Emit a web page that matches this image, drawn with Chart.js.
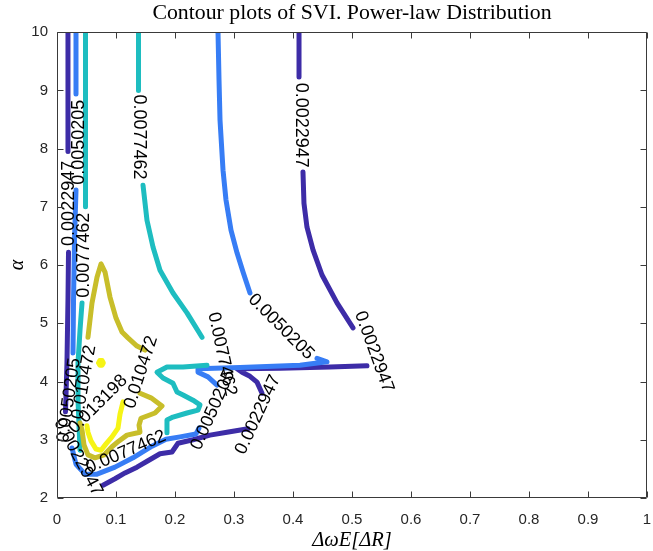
<!DOCTYPE html>
<html>
<head>
<meta charset="utf-8">
<script src="https://cdn.jsdelivr.net/npm/chart.js@4.4.1/dist/chart.umd.min.js"></script>
<style>
  html, body { margin: 0; padding: 0; background: #ffffff; }
  #wrap { width: 653px; height: 551px; }
</style>
</head>
<body>
<div id="wrap"><canvas id="c" width="653" height="551"></canvas></div>
<script>
// Contour levels of the SVI surface and their labels
const levels = [0.0022947, 0.0050205, 0.0077462, 0.010472, 0.013198];
const levelText = ['0.0022947', '0.0050205', '0.0077462', '0.010472', '0.013198'];
const levelColors = ['#3d2ca7', '#377df5', '#1ebdc0', '#c8be2a', '#f6f416'];

// Axis ticks
const xTicks = [0, 0.1, 0.2, 0.3, 0.4, 0.5, 0.6, 0.7, 0.8, 0.9, 1];
const xTickLabels = ['0', '0.1', '0.2', '0.3', '0.4', '0.5', '0.6', '0.7', '0.8', '0.9', '1'];
const yTicks = [2, 3, 4, 5, 6, 7, 8, 9, 10];
const yTickLabels = ['2', '3', '4', '5', '6', '7', '8', '9', '10'];

// Level 0.0022947 : pieces of the contour as [ΔωE[ΔR], α]
const c1a = [[0.0186, 10], [0.0186, 7.95]];
const c1b = [[0.0195, 6.22], [0.0186, 5.40], [0.0169, 4.32], [0.0144, 3.48]];
const c1c = [[0.078, 2.22], [0.0983, 2.33], [0.1153, 2.43], [0.1356, 2.53], [0.1542, 2.64], [0.1746, 2.76],
             [0.1949, 2.79], [0.2051, 2.94], [0.2305, 3.00], [0.2593, 3.08], [0.2881, 3.13], [0.3237, 3.19]];
const c1d = [[0.3475, 3.80], [0.3390, 3.99], [0.3271, 4.09], [0.3136, 4.16], [0.3051, 4.22],
             [0.3780, 4.23], [0.4627, 4.25], [0.5254, 4.27]];
const c1e = [[0.4102, 10], [0.4102, 9.23]];
const c1f = [[0.4169, 7.60], [0.4186, 7.06], [0.4237, 6.65], [0.4339, 6.26], [0.4492, 5.83], [0.4746, 5.35], [0.5017, 4.92]];

// Level 0.0050205
const c2a = [[0.0322, 10], [0.0322, 8.94]];
const c2b = [[0.0322, 7.29], [0.0297, 6.43], [0.0280, 5.40], [0.0271, 4.49]];
const c2c = [[0.0254, 2.86], [0.0322, 2.58], [0.0475, 2.41], [0.0678, 2.41], [0.0983, 2.53], [0.1288, 2.69],
             [0.1610, 2.89], [0.1847, 3.01], [0.2085, 3.05], [0.2356, 3.10], [0.2407, 3.20]];
const c2d = [[0.2712, 3.94], [0.2559, 4.08], [0.2390, 4.16], [0.2390, 4.22], [0.3102, 4.24],
             [0.4119, 4.28], [0.4576, 4.34], [0.4407, 4.40]];
const c2e = [[0.2729, 10], [0.2746, 9.18], [0.2763, 8.49], [0.2814, 7.63], [0.2864, 7.12], [0.2949, 6.60],
             [0.3051, 6.21], [0.3153, 5.88], [0.3271, 5.52]];

// Level 0.0077462
const c3a = [[0.0483, 10], [0.0483, 7.00]];
const c3b = [[0.0424, 5.35], [0.0390, 4.88], [0.0356, 4.32], [0.0356, 3.68], [0.0390, 2.82]];
const c3c = [[0.1864, 3.12], [0.1864, 3.34], [0.1966, 3.39], [0.2203, 3.46], [0.2390, 3.51], [0.2424, 3.60],
             [0.2305, 3.68], [0.2136, 3.77], [0.2034, 3.82], [0.1966, 3.97], [0.1797, 4.06], [0.1695, 4.16],
             [0.1864, 4.25], [0.2136, 4.25], [0.2542, 4.28]];
const c3d = [[0.1381, 10], [0.1381, 9.00]];
const c3e = [[0.1458, 7.37], [0.1525, 6.77], [0.1627, 6.31], [0.1746, 5.91], [0.1966, 5.52], [0.2203, 5.18], [0.2458, 4.76]];

// Level 0.010472
const c4a = [[0.1407, 3.80], [0.1593, 3.72], [0.1780, 3.58], [0.1661, 3.46], [0.1424, 3.37], [0.1390, 3.25],
             [0.1407, 3.13], [0.1186, 3.08], [0.1051, 2.98], [0.0932, 2.88], [0.0797, 2.74], [0.0644, 2.69],
             [0.0525, 2.74], [0.0458, 2.91], [0.0424, 3.17], [0.0390, 3.29]];
const c4b = [[0.1492, 4.54], [0.1356, 4.61], [0.1203, 4.75], [0.1102, 4.85], [0.1000, 5.09], [0.0898, 5.45],
             [0.0814, 5.88], [0.0746, 6.02], [0.0678, 5.79], [0.0593, 5.35], [0.0525, 4.76]];

// Level 0.013198
const c5a = [[0.1119, 3.65], [0.1068, 3.44], [0.1034, 3.20], [0.0932, 3.05], [0.0831, 2.93], [0.0746, 2.82],
             [0.0661, 2.84], [0.0576, 2.98], [0.0525, 3.13], [0.0508, 3.24]];
const c5b = [[0.0705, 4.32], [0.0725, 4.36], [0.0765, 4.36], [0.0785, 4.32], [0.0765, 4.28], [0.0725, 4.28], [0.0705, 4.32]];

const contourPaths = [
  [c1a, c1b, c1c, c1d, c1e, c1f],
  [c2a, c2b, c2c, c2d, c2e],
  [c3a, c3b, c3c, c3d, c3e],
  [c4a, c4b],
  [c5a, c5b]
];

// In-line contour labels: [level index, ΔωE[ΔR], α, angle in degrees]
const contourLabels = [
  [0, 0.0203, 7.06, -90],
  [1, 0.0373, 8.11, -90],
  [2, 0.0458, 6.17, -90],
  [2, 0.1390, 8.20, 90],
  [0, 0.4136, 8.40, 90],
  [1, 0.3797, 4.94, 45],
  [0, 0.5373, 4.51, 70],
  [2, 0.2797, 4.47, 78],
  [1, 0.2644, 3.51, -66],
  [0, 0.3407, 3.43, -65],
  [3, 0.1424, 4.16, -72],
  [3, 0.0458, 3.99, -80],
  [4, 0.0695, 3.61, -45],
  [2, 0.1169, 2.79, -23],
  [1, 0.0203, 3.68, -82],
  [0, 0.0356, 2.70, 62]
];

const datasets = [];
contourPaths.forEach((paths, k) => {
  paths.forEach(p => {
    datasets.push({
      label: levelText[k],
      data: p.map(([x, y]) => ({ x, y })),
      showLine: true,
      borderColor: levelColors[k],
      backgroundColor: levelColors[k],
      borderWidth: 5,
      pointRadius: 0,
      pointHoverRadius: 0,
      borderCapStyle: 'round',
      borderJoinStyle: 'round',
      tension: 0,
      fill: false,
      clip: 0,
      order: 10 - k
    });
  });
});

// Axes box with inward ticks on all four sides, plus the contour labels
const frameAndLabels = {
  id: 'frameAndLabels',
  afterDatasetsDraw(chart) {
    const { ctx, chartArea: a, scales: { x, y } } = chart;
    ctx.save();
    ctx.fillStyle = '#000000';
    ctx.font = '18px "Liberation Sans", Arial, Helvetica, sans-serif';
    ctx.textAlign = 'center';
    ctx.textBaseline = 'middle';
    contourLabels.forEach(([k, lx, ly, ang]) => {
      ctx.save();
      ctx.translate(x.getPixelForValue(lx), y.getPixelForValue(ly));
      ctx.rotate(ang * Math.PI / 180);
      ctx.fillText(levelText[k], 0, 0);
      ctx.restore();
    });

    const L = Math.round(a.left) + 0.5, R = Math.round(a.right) - 0.5;
    const T = Math.round(a.top) + 0.5, B = Math.round(a.bottom) - 0.5;
    ctx.strokeStyle = '#3a3a3a';
    ctx.lineWidth = 1;
    ctx.beginPath();
    ctx.rect(L, T, R - L, B - T);
    const tl = 6;
    xTicks.forEach(v => {
      const px = Math.round(x.getPixelForValue(v)) + 0.5;
      ctx.moveTo(px, B); ctx.lineTo(px, B - tl);
      ctx.moveTo(px, T); ctx.lineTo(px, T + tl);
    });
    yTicks.forEach(v => {
      const py = Math.round(y.getPixelForValue(v)) + 0.5;
      ctx.moveTo(L, py); ctx.lineTo(L + tl, py);
      ctx.moveTo(R, py); ctx.lineTo(R - tl, py);
    });
    ctx.stroke();
    ctx.restore();
  }
};

new Chart(document.getElementById('c'), {
  type: 'scatter',
  data: { datasets },
  options: {
    responsive: false,
    animation: false,
    events: [],
    layout: { padding: { left: 0, right: 6, top: 0, bottom: 0 } },
    plugins: {
      legend: { display: false },
      tooltip: { enabled: false },
      title: {
        display: true,
        text: 'Contour plots of SVI. Power-law Distribution',
        fullSize: false,
        color: '#000000',
        font: { family: '"Liberation Serif", "Times New Roman", serif', size: 21.8, weight: 'normal' },
        padding: { top: 0, bottom: 6 }
      }
    },
    scales: {
      x: {
        type: 'linear',
        min: 0,
        max: 1,
        afterBuildTicks: s => { s.ticks = xTicks.map(v => ({ value: v })); },
        afterFit: s => { s.height = 53; s.paddingLeft = 0; s.paddingRight = 0; },
        grid: { display: false, drawTicks: false, tickLength: 0 },
        border: { display: false },
        ticks: {
          autoSkip: false,
          maxRotation: 0,
          padding: 13,
          color: '#262626',
          font: { family: '"Liberation Sans", Arial, sans-serif', size: 15 },
          callback: (v, i) => xTickLabels[i]
        },
        title: {
          display: true,
          text: 'ΔωE[ΔR]',
          color: '#000000',
          font: { family: '"Liberation Serif", "Times New Roman", serif', size: 20.5, style: 'italic' },
          padding: { top: 0, bottom: -2 }
        }
      },
      y: {
        type: 'linear',
        min: 2,
        max: 10,
        afterBuildTicks: s => { s.ticks = yTicks.map(v => ({ value: v })); },
        afterFit: s => { s.width = 57; },
        grid: { display: false, drawTicks: false, tickLength: 0 },
        border: { display: false },
        ticks: {
          autoSkip: false,
          padding: 9,
          color: '#262626',
          font: { family: '"Liberation Sans", Arial, sans-serif', size: 15 },
          callback: (v, i) => yTickLabels[i]
        },
        title: {
          display: true,
          text: 'α',
          color: '#000000',
          font: { family: '"Liberation Serif", "Times New Roman", serif', size: 20, style: 'italic' },
          padding: { top: 6, bottom: 0 }
        }
      }
    }
  },
  plugins: [frameAndLabels]
});
</script>
</body>
</html>
